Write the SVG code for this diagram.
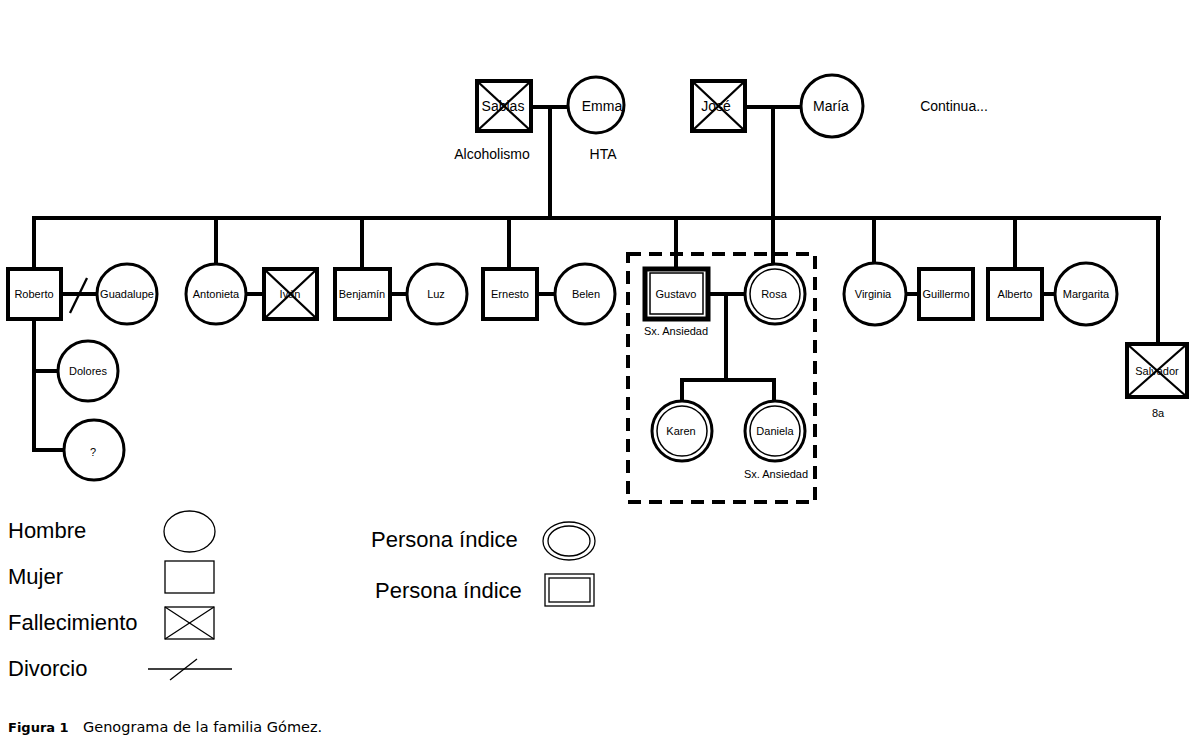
<svg xmlns="http://www.w3.org/2000/svg" width="1196" height="745" viewBox="0 0 1196 745">
<style>
.sq{fill:#fff;stroke:#000;stroke-width:4}
.ci{fill:#fff;stroke:#000;stroke-width:3}
.x{stroke:#000;stroke-width:2.3}
.ln{stroke:#000;stroke-width:4;fill:none}
.t{font-family:"Liberation Sans",Arial,sans-serif;font-size:11px;fill:#000;text-anchor:middle}
.tb{font-family:"Liberation Sans",Arial,sans-serif;font-size:14px;fill:#000;text-anchor:middle}
.lg{font-family:"Liberation Sans",Arial,sans-serif;font-size:22px;fill:#000}
.ls{fill:#fff;stroke:#000;stroke-width:1.3}
.cap{font-family:"DejaVu Sans",sans-serif;font-size:13px;fill:#000}
</style>
<rect width="1196" height="745" fill="#fff"/>
<g id="connectors">
  <line class="ln" x1="531" y1="107" x2="568" y2="107"/>
  <line class="ln" x1="550" y1="107" x2="550" y2="218"/>
  <line class="ln" x1="745" y1="107" x2="801" y2="107"/>
  <line class="ln" x1="773" y1="107" x2="773" y2="218"/>
  <line class="ln" x1="32" y1="218" x2="1161" y2="218"/>
  <line class="ln" x1="34" y1="218" x2="34" y2="268"/>
  <line class="ln" x1="216" y1="218" x2="216" y2="263"/>
  <line class="ln" x1="362" y1="218" x2="362" y2="268"/>
  <line class="ln" x1="509" y1="218" x2="509" y2="268"/>
  <line class="ln" x1="676" y1="218" x2="676" y2="268"/>
  <line class="ln" x1="773" y1="218" x2="773" y2="263"/>
  <line class="ln" x1="874" y1="218" x2="874" y2="263"/>
  <line class="ln" x1="1015" y1="218" x2="1015" y2="268"/>
  <line class="ln" x1="1158" y1="218" x2="1158" y2="344"/>
  <line class="ln" x1="61" y1="294" x2="97" y2="294"/>
  <line class="x" x1="70" y1="313" x2="87" y2="278" stroke-width="2.5"/>
  <line class="ln" x1="34" y1="319" x2="34" y2="452"/>
  <line class="ln" x1="32" y1="371" x2="57" y2="371"/>
  <line class="ln" x1="32" y1="450" x2="63" y2="450"/>
  <line class="ln" x1="247" y1="294" x2="264" y2="294"/>
  <line class="ln" x1="390" y1="294" x2="406" y2="294"/>
  <line class="ln" x1="537" y1="294" x2="555" y2="294"/>
  <line class="ln" x1="709" y1="294" x2="744" y2="294"/>
  <line class="ln" x1="726" y1="294" x2="726" y2="380"/>
  <line class="ln" x1="680" y1="380" x2="776" y2="380"/>
  <line class="ln" x1="682" y1="378" x2="682" y2="401"/>
  <line class="ln" x1="774" y1="378" x2="774" y2="401"/>
  <line class="ln" x1="906" y1="294" x2="918" y2="294"/>
  <line class="ln" x1="1042" y1="294" x2="1056" y2="294"/>
  <rect x="628" y="254" width="187" height="248" fill="none" stroke="#000" stroke-width="4" stroke-dasharray="13,8"/>
</g>
<g id="sabias">
  <rect class="sq" x="477" y="81" width="54" height="50"/>
  <text class="tb" x="503" y="111">Sabias</text>
  <line class="x" x1="477" y1="81" x2="531" y2="131"/>
  <line class="x" x1="531" y1="81" x2="477" y2="131"/>
  <text class="tb" x="492" y="159">Alcoholismo</text>
</g>
<g id="emma">
  <circle class="ci" cx="596" cy="105" r="28"/>
  <text class="tb" x="602" y="111">Emma</text>
  <text class="tb" x="603" y="159">HTA</text>
</g>
<g id="jose">
  <rect class="sq" x="692" y="81" width="53" height="50"/>
  <text class="tb" x="716" y="111">José</text>
  <line class="x" x1="692" y1="81" x2="745" y2="131"/>
  <line class="x" x1="745" y1="81" x2="692" y2="131"/>
</g>
<g id="maria">
  <circle class="ci" cx="832" cy="106" r="31"/>
  <text class="tb" x="831" y="111" font-size="13">María</text>
</g>
<text class="tb" x="954" y="111" font-size="13">Continua...</text>
<g id="roberto">
  <rect class="sq" x="8" y="269" width="53" height="50"/>
  <text class="t" x="34" y="298">Roberto</text>
</g>
<g id="guadalupe">
  <circle class="ci" cx="127" cy="294" r="30"/>
  <text class="t" x="127" y="298">Guadalupe</text>
</g>
<g id="dolores">
  <circle class="ci" cx="88" cy="371" r="30"/>
  <text class="t" x="88" y="375">Dolores</text>
</g>
<g id="unknown">
  <circle class="ci" cx="94" cy="450" r="30"/>
  <text class="t" x="93" y="456">?</text>
</g>
<g id="antonieta">
  <circle class="ci" cx="216" cy="294" r="30"/>
  <text class="t" x="216" y="298">Antonieta</text>
</g>
<g id="ivan">
  <rect class="sq" x="264" y="269" width="53" height="50"/>
  <text class="t" x="290" y="298">Iván</text>
  <line class="x" x1="264" y1="269" x2="317" y2="319"/>
  <line class="x" x1="317" y1="269" x2="264" y2="319"/>
</g>
<g id="benjamin">
  <rect class="sq" x="335" y="269" width="55" height="50"/>
  <text class="t" x="362" y="298">Benjamín</text>
</g>
<g id="luz">
  <circle class="ci" cx="437" cy="294" r="30"/>
  <text class="t" x="436" y="298">Luz</text>
</g>
<g id="ernesto">
  <rect class="sq" x="483" y="269" width="54" height="50"/>
  <text class="t" x="510" y="298">Ernesto</text>
</g>
<g id="belen">
  <circle class="ci" cx="585" cy="294" r="30"/>
  <text class="t" x="586" y="298">Belen</text>
</g>
<g id="gustavo">
  <rect x="645" y="269" width="63" height="50" fill="#fff" stroke="#000" stroke-width="5"/>
  <rect x="650" y="273" width="53" height="41" fill="none" stroke="#000" stroke-width="1.5"/>
  <text class="t" x="676" y="298">Gustavo</text>
  <text class="t" x="676" y="335">Sx. Ansiedad</text>
</g>
<g id="rosa">
  <circle class="ci" cx="775" cy="294" r="30"/>
  <circle cx="775" cy="294" r="25" fill="none" stroke="#000" stroke-width="1.5"/>
  <text class="t" x="774" y="298">Rosa</text>
</g>
<g id="karen">
  <circle class="ci" cx="682" cy="431" r="30"/>
  <circle cx="682" cy="431" r="25" fill="none" stroke="#000" stroke-width="1.5"/>
  <text class="t" x="681" y="435">Karen</text>
</g>
<g id="daniela">
  <circle class="ci" cx="775" cy="431" r="30"/>
  <circle cx="775" cy="431" r="25" fill="none" stroke="#000" stroke-width="1.5"/>
  <text class="t" x="775" y="435">Daniela</text>
  <text class="t" x="776" y="478">Sx. Ansiedad</text>
</g>
<g id="virginia">
  <circle class="ci" cx="875" cy="294" r="31"/>
  <text class="t" x="873" y="298">Virginia</text>
</g>
<g id="guillermo">
  <rect class="sq" x="919" y="269" width="54" height="50"/>
  <text class="t" x="946" y="298">Guillermo</text>
</g>
<g id="alberto">
  <rect class="sq" x="988" y="269" width="54" height="50"/>
  <text class="t" x="1015" y="298">Alberto</text>
</g>
<g id="margarita">
  <circle class="ci" cx="1086" cy="294" r="31"/>
  <text class="t" x="1086" y="298">Margarita</text>
</g>
<g id="salvador">
  <rect class="sq" x="1127" y="344" width="60" height="53"/>
  <text class="t" x="1157" y="375">Salvador</text>
  <line class="x" x1="1127" y1="344" x2="1187" y2="397"/>
  <line class="x" x1="1187" y1="344" x2="1127" y2="397"/>
  <text class="t" x="1158" y="417">8a</text>
</g>
<g id="legend">
  <text class="lg" x="8" y="538">Hombre</text>
  <ellipse class="ls" cx="189.5" cy="531.5" rx="25.5" ry="20.5"/>
  <text class="lg" x="8" y="584">Mujer</text>
  <rect class="ls" x="165" y="561" width="49" height="32"/>
  <text class="lg" x="8" y="630">Fallecimiento</text>
  <rect class="ls" x="165" y="607" width="49" height="32"/>
  <line x1="165" y1="607" x2="214" y2="639" stroke="#000" stroke-width="1.3"/>
  <line x1="214" y1="607" x2="165" y2="639" stroke="#000" stroke-width="1.3"/>
  <text class="lg" x="8" y="676">Divorcio</text>
  <line x1="148" y1="669" x2="232" y2="669" stroke="#000" stroke-width="1.3"/>
  <line x1="170" y1="680" x2="197" y2="659" stroke="#000" stroke-width="1.3"/>
  <text class="lg" x="371" y="547">Persona índice</text>
  <ellipse class="ls" cx="569" cy="541" rx="26" ry="19"/>
  <ellipse cx="569" cy="541" rx="21" ry="15" fill="none" stroke="#000" stroke-width="1.3"/>
  <text class="lg" x="375" y="598">Persona índice</text>
  <rect class="ls" x="545" y="574" width="49" height="32"/>
  <rect x="549" y="578" width="41" height="24" fill="none" stroke="#000" stroke-width="1.3"/>
</g>
<g id="caption">
  <text class="cap" x="8" y="732"><tspan font-weight="bold">Figura 1</tspan><tspan x="83" font-size="14.5">Genograma de la familia Gómez.</tspan></text>
</g>
</svg>
